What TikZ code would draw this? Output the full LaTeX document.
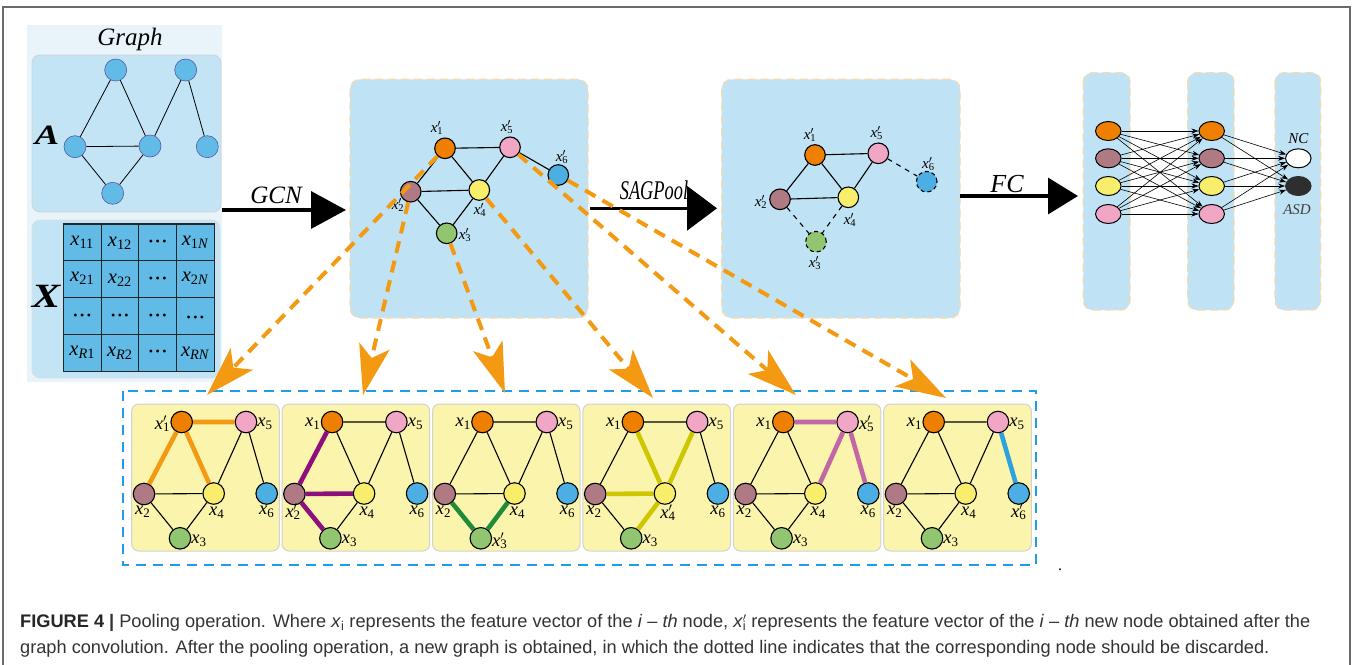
\documentclass[tikz,border=0pt]{standalone}
\usepackage{fontspec}
\setmainfont{Liberation Serif}
\newfontfamily\capfont{Liberation Sans}
\usetikzlibrary{arrows.meta,shapes.geometric}
\newcommand\fs[1]{\fontsize{#1}{#1}\selectfont}
\newcommand\xs[1]{\textit{x}\textsubscript{#1}}
\newcommand\xq[1]{\textit{x}\rlap{$^{\prime}$}\textsubscript{#1}}
\newcommand\dotsrow{{\fs{12}\textbullet\hspace{2.5pt}\textbullet\hspace{2.5pt}\textbullet}}
\definecolor{pbg}{HTML}{E8F4FA}
\definecolor{pblue}{HTML}{C3E4F4}
\definecolor{pblue2}{HTML}{BFE3F4}
\definecolor{nblue}{HTML}{62BBE6}
\definecolor{corange}{HTML}{EF7F00}
\definecolor{cmauve}{HTML}{B07A84}
\definecolor{cyellow}{HTML}{F8EE6C}
\definecolor{cpink}{HTML}{F2A6C6}
\definecolor{cgreen}{HTML}{92C56F}
\definecolor{cblue}{HTML}{4DAEE3}
\definecolor{dashor}{HTML}{F39A12}
\definecolor{dashbord}{HTML}{F8D9A9}
\definecolor{panyel}{HTML}{FAF4AC}
\definecolor{boxblue}{HTML}{1E9FE3}
\definecolor{hpurple}{HTML}{8E0E7E}
\definecolor{hgreen}{HTML}{1E8C3A}
\definecolor{holive}{HTML}{CEC600}
\definecolor{hmag}{HTML}{C266A6}
\definecolor{hblue}{HTML}{2CA3DE}
\definecolor{capgray}{HTML}{333333}
\definecolor{framegray}{HTML}{6A6A6A}
\tikzset{
  gedge/.style={line width=1.1pt, draw=black},
  anode/.style={circle, minimum size=22pt, inner sep=0pt, fill=nblue, draw=gray!70!blue, line width=0.6pt},
  gnode/.style={circle, minimum size=20.6pt, inner sep=0pt, draw=black, line width=1.1pt},
  pnode/.style={circle, minimum size=21.5pt, inner sep=0pt, draw=black, line width=1.1pt},
  fnode/.style={ellipse, minimum width=25.5pt, minimum height=19pt, inner sep=0pt, draw=black, line width=1pt},
  glab/.style={font=\fs{15}, inner sep=0pt},
  plab/.style={font=\fs{18.5}, inner sep=0pt},
  mlab/.style={font=\fs{20.5}, inner sep=0pt},
  bigarrow/.style={line width=3.5pt, draw=black},
  oarr/.style={draw=dashor, line width=4pt, dash pattern=on 12pt off 8pt, -{Stealth[length=50pt,width=31pt,inset=12pt]}},
  farr/.style={line width=0.6pt, draw=black, -{Stealth[length=7pt,width=5pt]}},
  hl/.style={line width=4.6pt},
  bluepanel/.style={fill=pblue2, draw=dashbord, dash pattern=on 8pt off 5pt, line width=1.2pt, rounded corners=10pt},
  yelpanel/.style={fill=panyel, draw=gray!35, line width=1pt, rounded corners=7pt},
  ttl/.style={inner sep=0pt, font=\fs{25}\itshape},
}
\begin{document}
\begin{tikzpicture}[x=1pt,y=-1pt]
\useasboundingbox (0,0) rectangle (1357,664);
\fill[white] (0,0) rectangle (1357,664);
% outer frame
\draw[framegray, line width=1.3pt] (3,670) -- (3,7) -- (1350,7) -- (1350,670);

% ---------- left panel ----------
\fill[pbg] (27,25) rectangle (222,382);
\node[ttl] (graphlbl) at (130,39) {Graph};
\draw[fill=pblue, draw=gray!35, line width=0.8pt, rounded corners=8pt] (32,55) rectangle (221,212);
\draw[fill=pblue, draw=gray!25, line width=0.8pt, rounded corners=8pt] (32,220) rectangle (220,378);
\node[inner sep=0pt, font=\fs{28}\bfseries\itshape, xscale=1.3] (Albl) at (47,135) {A};
\node[inner sep=0pt, font=\fs{34}\bfseries\itshape, xscale=1.25] (Xlbl) at (46,296) {X};

\node[anode] (a1) at (115.7,70) {};
\node[anode] (a2) at (185.7,70) {};
\node[anode] (a3) at (75,146.7) {};
\node[anode] (a4) at (150,146) {};
\node[anode] (a5) at (207.3,146.7) {};
\node[anode] (a6) at (112.7,193.3) {};
\draw[line width=0.8pt] (a1)--(a3) (a1)--(a4) (a3)--(a4) (a3)--(a6) (a4)--(a6) (a4)--(a2) (a2)--(a5);

% matrix
\draw[fill=nblue, draw=black!85, line width=1.1pt] (63.3,224) rectangle (214.3,371.7);
\foreach \c in {1,2,3} {\draw[black!85, line width=1pt] (63.3+37.75*\c,224) -- (63.3+37.75*\c,371.7);}
\foreach \r in {1,2,3} {\draw[black!85, line width=1pt] (63.3,224+36.93*\r) -- (214.3,224+36.93*\r);}
\node[mlab] (m11) at (82.2,242.4) {\xs{11}};
\node[mlab] (m12) at (119.9,243.4) {\xs{12}};
\node[mlab] (m13) at (157.7,242.4) {\dotsrow};
\node[mlab] (m14) at (195.4,242.4) {\xs{1\textit{N}}};
\node[mlab] (m21) at (82.2,278.4) {\xs{21}};
\node[mlab] (m22) at (119.9,280.4) {\xs{22}};
\node[mlab] (m23) at (157.7,279.4) {\dotsrow};
\node[mlab] (m24) at (195.4,278.4) {\xs{2\textit{N}}};
\node[mlab] (m31) at (82.2,316.3) {\dotsrow};
\node[mlab] (m32) at (119.9,316.3) {\dotsrow};
\node[mlab] (m33) at (157.7,316.3) {\dotsrow};
\node[mlab] (m34) at (195.4,318.3) {\dotsrow};
\node[mlab] (m41) at (82.2,352.2) {\xs{\textit{R}1}};
\node[mlab] (m42) at (119.9,353.2) {\xs{\textit{R}2}};
\node[mlab] (m43) at (157.7,353.2) {\dotsrow};
\node[mlab] (m44) at (195.4,353.2) {\xs{\textit{RN}}};

% ---------- GCN arrow ----------
\coordinate (gcnS) at (222,210);
\coordinate (gcnE) at (346,210);
\draw[bigarrow, -{Triangle[length=35pt,width=37pt]}] (gcnS) -- (gcnE);
\node[ttl] (gcnlbl) at (276,195) {GCN};

% ---------- GCN panel ----------
\draw[bluepanel] (350,79.3) rectangle (588,318);
\node[gnode, fill=corange] (g1) at (445,148.3) {};
\node[gnode, fill=cpink] (g5) at (510,147.3) {};
\node[gnode, fill=cblue] (g6) at (558.3,175) {};
\node[gnode, fill=cmauve] (g2) at (410.7,191.7) {};
\node[gnode, fill=cyellow] (g4) at (479.3,190) {};
\node[gnode, fill=cgreen] (g3) at (446.7,233.3) {};
\draw[gedge] (g1)--(g5) (g1)--(g2) (g1)--(g4) (g2)--(g4) (g2)--(g3) (g4)--(g3) (g5)--(g4) (g5)--(g6);
\node[glab] (gl1) at (437,128) {\xq{1}};
\node[glab] (gl5) at (507,127) {\xq{5}};
\node[glab] (gl6) at (562,157) {\xq{6}};
\node[glab] (gl2) at (398,205) {\xq{2}};
\node[glab] (gl4) at (480,210) {\xq{4}};
\node[glab] (gl3) at (465,235) {\xq{3}};

% ---------- SAGPool arrow ----------
\coordinate (sagS) at (590,208.3);
\coordinate (sagE) at (717,208.3);
\node[inner sep=0pt, font=\fs{27}\itshape, xscale=0.68] (saglbl) at (654,190) {SAGPool};
\draw[bigarrow, -{Triangle[length=30pt,width=44pt]}] (sagS) -- (sagE);

% ---------- SAGPool panel ----------
\draw[bluepanel] (721.7,79.3) rectangle (960,318);
\node[gnode, fill=corange] (s1) at (815,155) {};
\node[gnode, fill=cpink] (s5) at (878.3,153.3) {};
\node[gnode, fill=cblue, dash pattern=on 4pt off 3pt] (s6) at (926.7,181.7) {};
\node[gnode, fill=cmauve] (s2) at (780,199.3) {};
\node[gnode, fill=cyellow] (s4) at (848.3,197.3) {};
\node[gnode, fill=cgreen, dash pattern=on 4pt off 3pt] (s3) at (816,241.7) {};
\draw[gedge] (s1)--(s5) (s1)--(s2) (s1)--(s4) (s2)--(s4) (s5)--(s4);
\draw[gedge, dash pattern=on 5pt off 5pt] (s5)--(s6) (s2)--(s3) (s4)--(s3);
\node[glab] (sl1) at (810,135) {\xq{1}};
\node[glab] (sl5) at (876.7,133.3) {\xq{5}};
\node[glab] (sl6) at (928.3,164.3) {\xq{6}};
\node[glab] (sl2) at (761,201.7) {\xq{2}};
\node[glab] (sl4) at (850,220) {\xq{4}};
\node[glab] (sl3) at (815,262.7) {\xq{3}};

% ---------- FC arrow ----------
\coordinate (fcS) at (960,196);
\coordinate (fcE) at (1078,196);
\draw[bigarrow, -{Triangle[length=30pt,width=36pt]}] (fcS) -- (fcE);
\node[ttl, font=\fs{26}\itshape] (fclbl) at (1007,184) {FC};

% ---------- FC columns ----------
\draw[bluepanel, rounded corners=9pt] (1083.3,72.7) rectangle (1130,310);
\draw[bluepanel, rounded corners=9pt] (1187.7,72.7) rectangle (1234,310);
\draw[bluepanel, rounded corners=9pt] (1275,72.7) rectangle (1320.7,310);
\node[fnode, fill=corange] (f1a) at (1108.3,131) {};
\node[fnode, fill=cmauve] (f1b) at (1108.3,158.3) {};
\node[fnode, fill=cyellow] (f1c) at (1108.3,186) {};
\node[fnode, fill=cpink] (f1d) at (1108.3,214) {};
\node[fnode, fill=corange] (f2a) at (1211.7,131) {};
\node[fnode, fill=cmauve] (f2b) at (1211.7,158.3) {};
\node[fnode, fill=cyellow] (f2c) at (1211.7,186) {};
\node[fnode, fill=cpink] (f2d) at (1211.7,214) {};
\node[fnode, fill=white] (o1) at (1298.3,158.3) {};
\node[fnode, fill=black!82, draw=black!82] (o2) at (1298.3,186) {};
\foreach \u in {a,b,c,d} {
  \foreach \v in {a,b,c,d} {\draw[farr] (f1\u) -- (f2\v);}
  \draw[farr] (f2\u) -- (o1);
  \draw[farr] (f2\u) -- (o2);
}
\node[inner sep=0pt, font=\fs{15}\itshape] (nclbl) at (1298.3,138.5) {NC};
\node[inner sep=0pt, font=\fs{15}\itshape, text=black!75] (asdlbl) at (1297,210) {ASD};

% ---------- bottom row ----------
\draw[boxblue, line width=1.8pt, dash pattern=on 10pt off 7pt] (122.7,391) rectangle (1036,565);
\foreach \k [evaluate=\k as \ox using 131.7+(\k-1)*150.4] in {1,...,6} {
  \draw[yelpanel] (\ox,404) rectangle ++(147.6,147);
  \node[pnode, fill=corange] (q\k x1) at (\ox+50,422) {};
  \node[pnode, fill=cpink] (q\k x5) at (\ox+114.3,422) {};
  \node[pnode, fill=cmauve] (q\k x2) at (\ox+12.3,494) {};
  \node[pnode, fill=cyellow] (q\k x4) at (\ox+82,493.5) {};
  \node[pnode, fill=cblue] (q\k x6) at (\ox+135,493.5) {};
  \node[pnode, fill=cgreen] (q\k x3) at (\ox+48.3,538.3) {};
  \draw[gedge] (q\k x1)--(q\k x5) (q\k x1)--(q\k x2) (q\k x1)--(q\k x4) (q\k x2)--(q\k x4)
     (q\k x2)--(q\k x3) (q\k x4)--(q\k x3) (q\k x5)--(q\k x4) (q\k x5)--(q\k x6);
  \node[plab, anchor=east] (ql\k a) at (\ox+38.5,424) {\ifnum\k=1 \xq{1}\else\xs{1}\fi};
  \node[plab, anchor=west] (ql\k e) at (\ox+125.5,424) {\ifnum\k=5 \xq{5}\else\xs{5}\fi};
  \node[plab] (ql\k b) at (\ox+11,512) {\ifnum\k=2 \xq{2}\else\xs{2}\fi};
  \node[plab] (ql\k d) at (\ox+85,513) {\ifnum\k=4 \xq{4}\else\xs{4}\fi};
  \node[plab] (ql\k f) at (\ox+135,512) {\ifnum\k=6 \xq{6}\else\xs{6}\fi};
  \node[plab, anchor=west] (ql\k c) at (\ox+59.5,541) {\ifnum\k=3 \xq{3}\else\xs{3}\fi};
}
\draw[hl, draw=dashor] (q1x1)--(q1x5) (q1x1)--(q1x2) (q1x1)--(q1x4);
\draw[hl, draw=hpurple] (q2x2)--(q2x1) (q2x2)--(q2x4) (q2x2)--(q2x3);
\draw[hl, draw=hgreen] (q3x3)--(q3x2) (q3x3)--(q3x4);
\draw[hl, draw=holive] (q4x4)--(q4x1) (q4x4)--(q4x5) (q4x4)--(q4x2) (q4x4)--(q4x3);
\draw[hl, draw=hmag] (q5x5)--(q5x1) (q5x5)--(q5x4) (q5x5)--(q5x6);
\draw[hl, draw=hblue] (q6x6)--(q6x5);

% ---------- orange dashed arrows ----------
\coordinate (t1) at (207,395);
\coordinate (t2) at (363,395);
\coordinate (t3) at (505,393);
\coordinate (t4) at (653,398);
\coordinate (t5) at (796,395);
\coordinate (t6) at (946,398);
\draw[oarr] (g1) -- (t1);
\draw[oarr] (g2) -- (t2);
\draw[oarr] (g3) -- (t3);
\draw[oarr] (g4) -- (t4);
\draw[oarr] (g5) -- (t5);
\draw[oarr] (g6) -- (t6);

\node[inner sep=0pt, font=\fs{16}] (dotmark) at (1060,570) {.};

% ---------- caption ----------
\node[anchor=base west, inner sep=0pt, font=\capfont\fs{18.2}, text=capgray] (cap1) at (20,627.5)
 {{\color{black!85}\textbf{FIGURE 4}} \textbf{|} Pooling operation. Where \textit{x}\textsubscript{i} represents the feature vector of the \textit{i} – \textit{th} node, \textit{x}\rlap{\textsuperscript{$\prime$}}\textsubscript{i} represents the feature vector of the \textit{i} – \textit{th} new node obtained after the};
\node[anchor=base west, inner sep=0pt, font=\capfont\fs{18.2}, text=capgray] (cap2) at (20,653.5)
 {graph convolution. After the pooling operation, a new graph is obtained, in which the dotted line indicates that the corresponding node should be discarded.};
\end{tikzpicture}
\end{document}
